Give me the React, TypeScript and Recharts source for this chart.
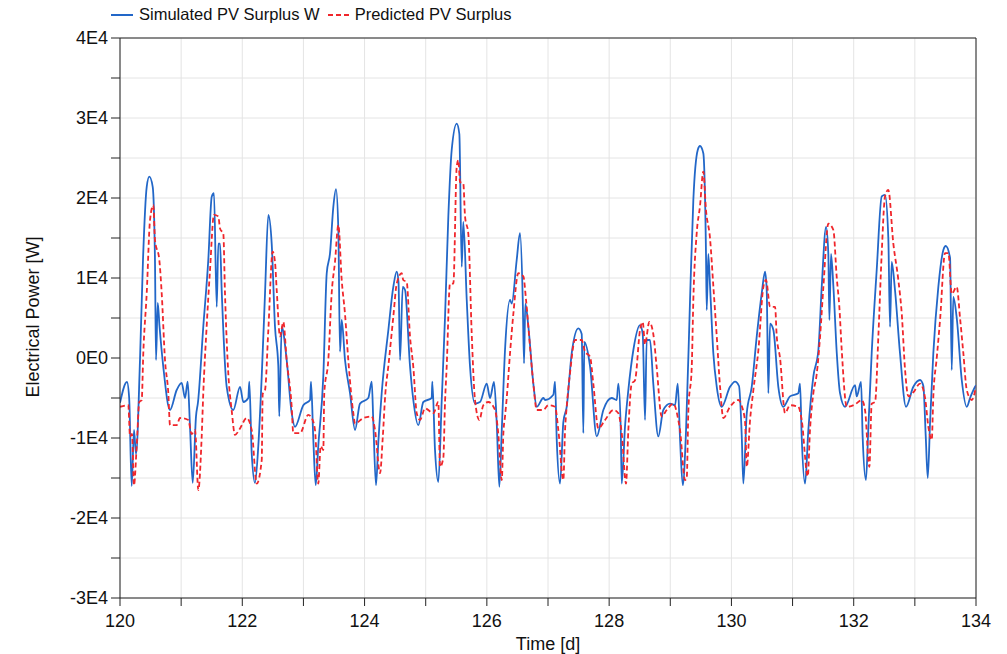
import React from 'react';
import { LineChart, Line, XAxis, YAxis, CartesianGrid, ReferenceLine } from 'recharts';

// [time in days, power in W]
const simulated: [number, number][] = [
  [120.0, -5600], [120.114, -3000], [120.15, -5000], [120.191, -16000], [120.229, -9000], [120.262, -12000],
  [120.327, -250], [120.376, 12250], [120.437, 21400], [120.479, 22660], [120.535, 21400], [120.572, 12250],
  [120.589, -250], [120.617, 6900], [120.646, 4000], [120.708, -1100], [120.818, -6500], [120.927, -4000],
  [121.009, -3100], [121.063, -5000], [121.107, -2950], [121.145, -8600], [121.189, -15600], [121.243, -7300],
  [121.276, -5500], [121.362, 3900], [121.444, 12250], [121.5, 20160], [121.537, 20600], [121.582, 6400],
  [121.608, 14300], [121.636, 14300], [121.663, 8500], [121.745, -3600], [121.853, -6500], [121.963, -3600],
  [122.017, -5500], [122.098, -5000], [122.115, -2950], [122.154, -11900], [122.208, -15600], [122.262, -11000],
  [122.318, -2300], [122.372, 8100], [122.426, 17900], [122.481, 14300], [122.535, 3900], [122.589, -1000],
  [122.605, -7300], [122.645, 3900], [122.726, -250], [122.808, -6900], [122.862, -8600], [122.998, -5900],
  [123.108, -5250], [123.124, -2950], [123.162, -10250], [123.201, -15900], [123.243, -11000], [123.325, -2300],
  [123.381, 10600], [123.435, 13100], [123.489, 18900], [123.533, 21100], [123.571, 16000], [123.598, 800],
  [123.626, 4750], [123.68, -250], [123.762, -4400], [123.844, -9000], [123.925, -5700], [124.061, -5000],
  [124.117, -2950], [124.143, -8000], [124.187, -15900], [124.225, -10500], [124.28, -4400], [124.389, 3500],
  [124.47, 8900], [124.526, 10800], [124.555, 9500], [124.58, -250], [124.624, 8900], [124.662, 8500],
  [124.743, -1000], [124.797, -5250], [124.879, -8400], [124.961, -5500], [125.098, -5000], [125.108, -2950],
  [125.152, -11500], [125.206, -15500], [125.262, -5250], [125.316, 5150], [125.37, 17700], [125.425, 26000],
  [125.507, 29300], [125.55, 28000], [125.589, 11400], [125.615, 17000], [125.671, 7250], [125.725, -1100],
  [125.806, -5700], [125.888, -5500], [125.998, -3200], [126.052, -5000], [126.117, -3000], [126.162, -8200],
  [126.204, -16100], [126.244, -9000], [126.297, 1000], [126.379, 7250], [126.407, 6800], [126.488, 12250],
  [126.542, 15600], [126.587, 7250], [126.608, -670], [126.629, 6800], [126.678, 4000], [126.76, -3200],
  [126.816, -6100], [126.924, -5000], [126.952, -5250], [127.087, -4600], [127.115, -2950], [127.143, -10250],
  [127.197, -15700], [127.251, -8000], [127.306, -6100], [127.388, 600], [127.496, 3700], [127.551, 3000],
  [127.578, -9400], [127.594, 2000], [127.687, -1000], [127.797, -9800], [127.905, -6500], [128.042, -5000],
  [128.124, -5250], [128.151, -3200], [128.19, -9000], [128.206, -15700], [128.26, -8500], [128.314, -4000],
  [128.396, 1000], [128.505, 4100], [128.549, 3000], [128.587, -7750], [128.614, 2250], [128.668, 2250],
  [128.722, -3200], [128.804, -9800], [128.886, -6500], [128.996, -5700], [129.078, -5900], [129.122, -3200],
  [129.159, -10000], [129.204, -15900], [129.258, -9000], [129.323, 7250], [129.377, 19750], [129.449, 26000],
  [129.486, 26500], [129.54, 25600], [129.584, 13100], [129.596, 6000], [129.622, 13000], [129.65, 9000],
  [129.704, 600], [129.76, -3600], [129.841, -6100], [129.977, -3600], [130.059, -2950], [130.124, -3500],
  [130.169, -9800], [130.195, -15700], [130.251, -6900], [130.332, -3600], [130.414, 2700], [130.496, 8100],
  [130.55, 10800], [130.577, 8500], [130.604, -4400], [130.632, 4300], [130.686, 3500], [130.767, -3600],
  [130.849, -6100], [130.958, -4800], [131.094, -4400], [131.122, -3200], [131.149, -9800], [131.204, -15700],
  [131.258, -9000], [131.34, -2300], [131.422, 1000], [131.477, 8900], [131.548, 16400], [131.585, 13000],
  [131.602, 4750], [131.629, 13000], [131.667, 9000], [131.723, 600], [131.776, -4400], [131.858, -6100],
  [132.022, -3400], [132.049, -4800], [132.12, -3000], [132.146, -9800], [132.2, -15250], [132.238, -9000],
  [132.294, 600], [132.376, 11000], [132.458, 20200], [132.512, 20400], [132.566, 15000], [132.594, 3900],
  [132.621, 12000], [132.675, 8500], [132.757, 600], [132.855, -6100], [132.975, -3600], [133.085, -2750],
  [133.139, -3500], [133.178, -9800], [133.211, -15000], [133.249, -8000], [133.302, 600], [133.384, 8900],
  [133.466, 13500], [133.505, 14000], [133.576, 12500], [133.603, -1500], [133.629, 7650], [133.685, 5000],
  [133.767, -2750], [133.849, -6100], [133.903, -5000], [133.985, -3600], [134.0, -3400],
];

const predicted: [number, number][] = [
  [120.0, -6100], [120.136, -5900], [120.164, -9800], [120.196, -9500], [120.229, -15900], [120.273, -11000],
  [120.316, -5500], [120.355, -5250], [120.381, 600], [120.437, 8100], [120.491, 17250], [120.545, 19100],
  [120.572, 14750], [120.643, 12250], [120.682, 8100], [120.736, -250], [120.79, -4400], [120.818, -8400],
  [120.927, -8400], [120.981, -7500], [121.117, -7750], [121.171, -9500], [121.227, -9000], [121.281, -16500],
  [121.335, -10000], [121.362, -4400], [121.417, 3900], [121.472, 11000], [121.537, 17900], [121.608, 17700],
  [121.636, 16200], [121.69, 15500], [121.717, 8100], [121.771, -1900], [121.826, -6500], [121.881, -9600],
  [121.963, -8800], [122.072, -7500], [122.154, -9000], [122.236, -15700], [122.318, -12750], [122.334, -4500],
  [122.372, -4000], [122.426, 3500], [122.497, 13300], [122.535, 12000], [122.563, 8500], [122.617, 2700],
  [122.671, 4500], [122.726, -250], [122.808, -6100], [122.834, -9400], [122.944, -9400], [123.08, -7100],
  [123.135, -7500], [123.189, -9000], [123.243, -15700], [123.282, -11000], [123.325, -11500], [123.341, -4400],
  [123.407, -250], [123.462, 8100], [123.516, 12000], [123.571, 16600], [123.626, 9750], [123.68, 5500],
  [123.734, -250], [123.816, -6900], [123.844, -8200], [123.979, -7500], [124.117, -7300], [124.171, -9000],
  [124.253, -14400], [124.297, -10000], [124.34, -4400], [124.389, -1000], [124.47, 5150], [124.526, 9300],
  [124.607, 10600], [124.633, 9750], [124.689, 9500], [124.743, 2700], [124.797, -1100], [124.853, -6900],
  [124.907, -7750], [124.989, -6300], [125.125, -6900], [125.206, -5500], [125.234, -13600], [125.288, -12500],
  [125.316, -5500], [125.343, -1100], [125.397, 9300], [125.452, 9300], [125.507, 23900], [125.534, 24750],
  [125.561, 22000], [125.615, 21800], [125.643, 17700], [125.697, 15500], [125.752, 3100], [125.806, -5250],
  [125.877, -7750], [125.942, -5900], [126.024, -5500], [126.134, -6500], [126.186, -9400], [126.244, -15250],
  [126.27, -9400], [126.297, -7300], [126.325, -5000], [126.379, 600], [126.433, 5500], [126.515, 10600],
  [126.597, 10200], [126.641, 7250], [126.706, 1400], [126.76, -3200], [126.816, -6500], [126.924, -6500],
  [127.005, -5900], [127.115, -6100], [127.169, -9000], [127.251, -15250], [127.279, -9000], [127.306, -6100],
  [127.36, -1900], [127.442, 2250], [127.551, 2250], [127.605, 800], [127.687, 170], [127.741, -3200],
  [127.823, -8800], [127.933, -7750], [128.069, -6500], [128.151, -6900], [128.206, -9400], [128.276, -15700],
  [128.314, -9000], [128.369, -3200], [128.423, -2800], [128.505, 3500], [128.549, 4500], [128.587, 1700],
  [128.657, 4500], [128.722, 3000], [128.777, -1100], [128.859, -7300], [128.941, -6500], [129.05, -5700],
  [129.131, -7750], [129.159, -9000], [129.241, -15250], [129.269, -15000], [129.296, -6500], [129.351, -1100],
  [129.377, 7250], [129.432, 15600], [129.486, 19000], [129.54, 23300], [129.584, 18500], [129.65, 14950],
  [129.704, 9000], [129.76, 2700], [129.814, -3600], [129.868, -7500], [129.977, -6100], [130.113, -5250],
  [130.169, -6000], [130.223, -8000], [130.251, -13600], [130.305, -7750], [130.359, -4000], [130.441, 1000],
  [130.523, 8900], [130.566, 9750], [130.632, 6400], [130.714, 6400], [130.741, 2700], [130.795, 0],
  [130.877, -6900], [130.958, -5900], [131.094, -6100], [131.149, -7750], [131.248, -14800], [131.285, -9000],
  [131.34, -4400], [131.395, -2000], [131.45, 2700], [131.504, 8900], [131.585, 16800], [131.667, 16000],
  [131.723, 10000], [131.765, 6400], [131.804, 1000], [131.886, -6100], [132.022, -5800], [132.131, -5250],
  [132.185, -6500], [132.256, -13600], [132.294, -5700], [132.349, -5500], [132.403, 2700], [132.458, 13100],
  [132.512, 20200], [132.566, 21000], [132.648, 14300], [132.73, 9750], [132.786, 5500], [132.84, -1500],
  [132.894, -4800], [132.975, -4300], [133.085, -3200], [133.167, -5000], [133.221, -8600], [133.276, -10250],
  [133.302, -4800], [133.358, 0], [133.412, 4750], [133.494, 13100], [133.549, 13100], [133.603, 8000],
  [133.685, 8900], [133.739, 5000], [133.793, 600], [133.849, -4000], [133.931, -5250], [134.0, -3600],
];

const xTicks = [120, 121, 122, 123, 124, 125, 126, 127, 128, 129, 130, 131, 132, 133, 134];
const yTicks = [-30000, -25000, -20000, -15000, -10000, -5000, 0, 5000, 10000, 15000, 20000, 25000, 30000, 35000, 40000];

const simData = simulated.map(([t, v]) => ({ t, v }));
const predData = predicted.map(([t, v]) => ({ t, v }));

const FONT = '"Liberation Sans", Arial, sans-serif';
const BLUE = '#2267c8';
const RED = '#f0262b';

const fmtY = (v: number) => {
  if (v % 10000 !== 0) return '';
  if (v === 0) return '0E0';
  return `${v / 10000}E4`;
};
const fmtX = (v: number) => (v % 2 === 0 ? String(v) : '');

export default function App() {
  return (
    <div style={{ position: 'absolute', left: 0, top: 0, width: 1007, height: 654, background: '#fff', fontFamily: FONT }}>
      {/* legend */}
      <div style={{ position: 'absolute', top: 5, left: 111, display: 'flex', alignItems: 'center', fontSize: 16.5, color: '#111' }}>
        <svg width={23} height={10}><line x1={0} y1={5} x2={22} y2={5} stroke={BLUE} strokeWidth={2} /></svg>
        <span style={{ marginLeft: 5 }}>Simulated PV Surplus W</span>
        <svg width={22} height={10} style={{ marginLeft: 8 }}><line x1={0} y1={5} x2={21} y2={5} stroke={RED} strokeWidth={2} strokeDasharray="5 3" /></svg>
        <span style={{ marginLeft: 5 }}>Predicted PV Surplus</span>
      </div>

      <LineChart width={1007} height={654} data={simData} margin={{ top: 38, right: 31, bottom: 0, left: 0 }}>
        <CartesianGrid stroke="#e4e4e4" strokeWidth={1} verticalValues={xTicks} horizontalValues={yTicks} />
        <XAxis
          dataKey="t"
          type="number"
          domain={[120, 134]}
          ticks={xTicks}
          tickFormatter={fmtX}
          allowDataOverflow
          height={56}
          stroke="#222"
          tickSize={8}
          tick={{ fill: '#111', fontSize: 18, fontFamily: FONT }}
          tickMargin={8}
        />
        <YAxis
          type="number"
          domain={[-30000, 40000]}
          ticks={yTicks}
          tickFormatter={fmtY}
          allowDataOverflow
          width={120}
          stroke="#222"
          tickSize={9}
          tick={{ fill: '#111', fontSize: 18, fontFamily: FONT }}
          tickMargin={3}
        />
        <ReferenceLine y={40000} stroke="#222" strokeWidth={1} />
        <ReferenceLine x={134} stroke="#222" strokeWidth={1} />
        <Line data={simData} dataKey="v" type="monotone" stroke={BLUE} strokeWidth={1.8} dot={false} isAnimationActive={false} />
        <Line data={predData} dataKey="v" type="monotone" stroke={RED} strokeWidth={1.8} strokeDasharray="5 3" dot={false} isAnimationActive={false} />
      </LineChart>

      <div style={{ position: 'absolute', left: 120, width: 856, top: 634, textAlign: 'center', fontSize: 18, color: '#111' }}>Time [d]</div>
      <div style={{ position: 'absolute', left: 33, top: 317, transform: 'translate(-50%, -50%) rotate(-90deg)', whiteSpace: 'nowrap', fontSize: 18, color: '#111' }}>
        Electrical Power [W]
      </div>
    </div>
  );
}
